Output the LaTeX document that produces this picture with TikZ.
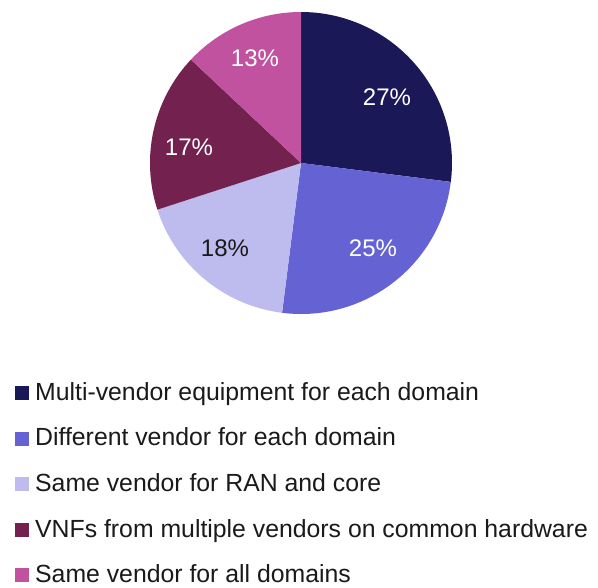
\documentclass[tikz,border=0pt]{standalone}
\usepackage{fontspec}
\setmainfont{Liberation Sans}
\definecolor{cNavy}{HTML}{1B1858}
\definecolor{cBlue}{HTML}{6562D4}
\definecolor{cLav}{HTML}{BEBCEE}
\definecolor{cWine}{HTML}{73214F}
\definecolor{cPink}{HTML}{C0529F}
\definecolor{cText}{HTML}{1A1A1A}
\tikzset{
  pct/.style={font=\fontsize{24}{28}\selectfont, text=white, inner sep=0pt},
  legtext/.style={font=\fontsize{24.8}{30}\selectfont, text=cText, anchor=base west, inner sep=0pt},
  legbox/.style={minimum size=14pt, inner sep=0pt, anchor=south west},
}
\begin{document}
\begin{tikzpicture}[x=1pt,y=-1pt]
\useasboundingbox (0,0) rectangle (598,588);
\fill[white] (0,0) rectangle (598,588);
% pie slices, clockwise from twelve o'clock (angles measured in image coords, y down)
\coordinate (c) at (301,163);
\def\R{151}
\fill[cNavy] (c) -- ++(-90:\R) arc[start angle=-90, end angle=7.2, radius=\R] -- cycle;
\fill[cBlue] (c) -- ++(7.2:\R) arc[start angle=7.2, end angle=97.2, radius=\R] -- cycle;
\fill[cLav]  (c) -- ++(97.2:\R) arc[start angle=97.2, end angle=162, radius=\R] -- cycle;
\fill[cWine] (c) -- ++(162:\R) arc[start angle=162, end angle=223.2, radius=\R] -- cycle;
\fill[cPink] (c) -- ++(223.2:\R) arc[start angle=223.2, end angle=270, radius=\R] -- cycle;
% percentage labels
\node[pct] (p27) at (387,97) {27\%};
\node[pct] (p25) at (373,248) {25\%};
\node[pct, text=cText] (p18) at (225,248) {18\%};
\node[pct] (p17) at (189,147) {17\%};
\node[pct] (p13) at (255,58) {13\%};
% legend
\foreach \col/\txt/\yy [count=\i] in {
  cNavy/Multi-vendor equipment for each domain/400.5,
  cBlue/Different vendor for each domain/445.8,
  cLav/Same vendor for RAN and core/491.5,
  cWine/VNFs from multiple vendors on common hardware/537.2,
  cPink/Same vendor for all domains/582.6} {
  \node[legbox, fill=\col] (box\i) at (15,\yy) {};
  \node[legtext] (leg\i) at (35,\yy) {\txt};
}
\end{tikzpicture}
\end{document}
